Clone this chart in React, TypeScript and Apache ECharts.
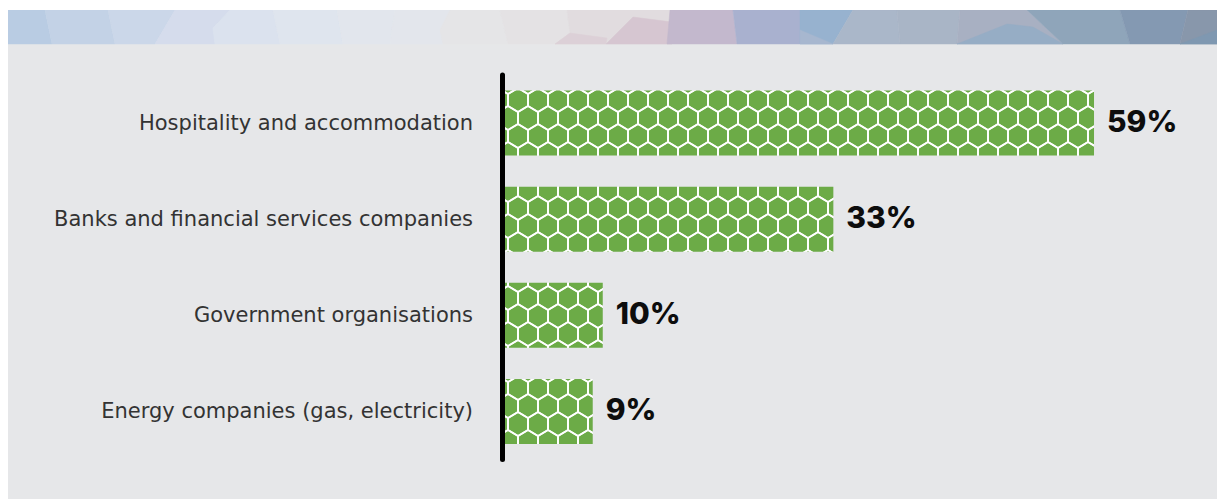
import React, { useEffect, useRef } from "react";
import * as echarts from "echarts";

const categories = [
  "Hospitality and accommodation",
  "Banks and financial services companies",
  "Government organisations",
  "Energy companies (gas, electricity)",
];
const values = [59, 33, 10, 9];

// decorative low-poly banner (page coordinates)
const bannerPolys: { pts: number[][]; color: string }[] = [
  { pts: [[8, 10], [45, 10], [52, 44], [8, 44]], color: "#b9cce3" },
  { pts: [[45, 10], [108, 10], [115, 44], [52, 44]], color: "#c3d2e6" },
  { pts: [[108, 10], [175, 10], [155, 44], [115, 44]], color: "#cbd7e9" },
  { pts: [[175, 10], [230, 10], [213, 28], [215, 44], [155, 44]], color: "#d5dcec" },
  { pts: [[230, 10], [273, 10], [280, 44], [215, 44], [213, 28]], color: "#dbe2ee" },
  { pts: [[273, 10], [337, 10], [343, 44], [280, 44]], color: "#dfe5ee" },
  { pts: [[337, 10], [395, 10], [390, 44], [343, 44]], color: "#e2e6ed" },
  { pts: [[395, 10], [450, 10], [440, 30], [443, 44], [390, 44]], color: "#e3e6ec" },
  { pts: [[450, 10], [500, 10], [508, 44], [443, 44], [440, 30]], color: "#e5e5e7" },
  { pts: [[500, 10], [567, 10], [570, 33], [555, 44], [508, 44]], color: "#e4e2e4" },
  { pts: [[567, 10], [672, 10], [672, 44], [555, 44], [570, 33]], color: "#e1dcdf" },
  { pts: [[555, 44], [570, 33], [607, 38], [606, 44]], color: "#dcd0d7" },
  { pts: [[606, 44], [633, 17], [672, 22], [672, 44]], color: "#d6c6d1" },
  { pts: [[670, 10], [733, 10], [737, 44], [667, 44]], color: "#c3b8cd" },
  { pts: [[733, 10], [800, 10], [800, 44], [737, 44]], color: "#a9b1cf" },
  { pts: [[800, 10], [853, 10], [833, 44], [800, 44]], color: "#97b2cf" },
  { pts: [[800, 30], [833, 44], [800, 44]], color: "#a7b7cf" },
  { pts: [[853, 10], [897, 10], [900, 44], [833, 44]], color: "#aab7c9" },
  { pts: [[897, 10], [960, 10], [957, 44], [900, 44]], color: "#a9b5c6" },
  { pts: [[960, 10], [1027, 10], [1063, 44], [957, 44]], color: "#a8b0c2" },
  { pts: [[957, 44], [1007, 24], [1033, 27], [1063, 44]], color: "#96adc5" },
  { pts: [[1027, 10], [1120, 10], [1130, 44], [1063, 44]], color: "#8fa5ba" },
  { pts: [[1120, 10], [1188, 10], [1180, 44], [1130, 44]], color: "#8499b2" },
  { pts: [[1188, 10], [1217, 10], [1217, 44], [1180, 44]], color: "#8897ab" },
  { pts: [[1180, 44], [1217, 30], [1217, 44]], color: "#7f98b1" },
];

function makeHexTile(): HTMLCanvasElement {
  const w = 20;
  const h = 36;
  const c = document.createElement("canvas");
  c.width = w;
  c.height = h;
  const ctx = c.getContext("2d")!;
  ctx.fillStyle = "#6cab47";
  ctx.fillRect(0, 0, w, h);
  ctx.strokeStyle = "#ffffff";
  ctx.lineWidth = 1.8;
  const r = 12;
  const b = 6;
  const hw = 10;
  for (let row = -1; row <= 3; row++) {
    for (let col = -1; col <= 2; col++) {
      const cx = col * 20 + (row % 2 !== 0 ? 10 : 0);
      const cy = row * 18;
      ctx.beginPath();
      ctx.moveTo(cx, cy - r);
      ctx.lineTo(cx + hw, cy - b);
      ctx.lineTo(cx + hw, cy + b);
      ctx.lineTo(cx, cy + r);
      ctx.lineTo(cx - hw, cy + b);
      ctx.lineTo(cx - hw, cy - b);
      ctx.closePath();
      ctx.stroke();
    }
  }
  return c;
}

export default function App() {
  const ref = useRef<HTMLDivElement>(null);
  useEffect(() => {
    if (!ref.current) return;
    const chart = echarts.init(ref.current, undefined, { renderer: "svg" });
    const tile = makeHexTile();
    const OX = 8;
    const OY = 10;
    chart.setOption({
      animation: false,
      backgroundColor: "#e6e7e9",
      graphic: bannerPolys.map((p) => ({
        type: "polygon",
        silent: true,
        shape: { points: p.pts.map(([x, y]) => [x - OX, y - OY]) },
        style: { fill: p.color, stroke: p.color, lineWidth: 0.5 },
      })),
      grid: { left: 494.5, right: 12.7, top: 65, bottom: 39.5 },
      xAxis: { type: "value", min: 0, max: 70, show: false },
      yAxis: {
        type: "category",
        data: categories,
        inverse: true,
        z: 5,
        axisLine: { show: true, lineStyle: { color: "#000000", width: 5 } },
        axisTick: { show: false },
        splitLine: { show: false },
        axisLabel: {
          margin: 29.5,
          color: "#333333",
          fontSize: 21,
          fontFamily: "DejaVu Sans",
        },
      },
      series: [
        {
          type: "bar",
          data: values,
          barWidth: 65,
          silent: true,
          itemStyle: {
            color: { image: tile, repeat: "repeat", imageWidth: 20, imageHeight: 36 },
          },
          label: {
            show: true,
            position: "right",
            distance: 13,
            offset: [0, -2],
            formatter: "{c}%",
            fontSize: 30,
            fontWeight: 800,
            color: "#0d0d0d",
            fontFamily: "Inter",
          },
        },
      ],
    });
    return () => chart.dispose();
  }, []);
  return (
    <div
      ref={ref}
      style={{ position: "absolute", left: 8, top: 10, width: 1209, height: 489 }}
    />
  );
}
